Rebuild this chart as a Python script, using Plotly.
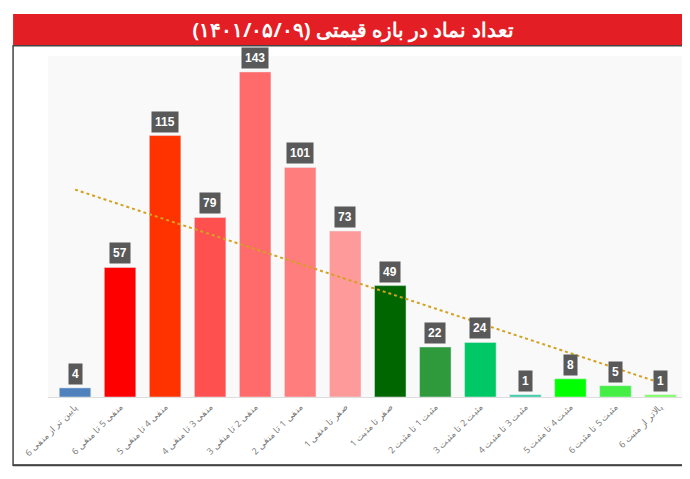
import numpy as np
import plotly.graph_objects as go

title = "تعداد نماد در بازه قیمتی (۱۴۰۱/۰۵/۰۹)"
categories = [
    "پایین تر از منفی 6",
    "منفی 5 تا منفی 6",
    "منفی 4 تا منفی 5",
    "منفی 3 تا منفی 4",
    "منفی 2 تا منفی 3",
    "منفی 1 تا منفی 2",
    "صفر تا منفی 1",
    "صفر تا مثبت 1",
    "مثبت 1 تا مثبت 2",
    "مثبت 2 تا مثبت 3",
    "مثبت 3 تا مثبت 4",
    "مثبت 4 تا مثبت 5",
    "مثبت 5 تا مثبت 6",
    "بالاتر از مثبت 6",
]
counts = [4, 57, 115, 79, 143, 101, 73, 49, 22, 24, 1, 8, 5, 1]
colors = ["#4f81bd", "#ff0000", "#ff3300", "#ff5050", "#ff6b6b", "#ff7d7d", "#ff9a9a",
          "#006600", "#2f9a3c", "#00c866", "#33c9a0", "#00ff00", "#44ee44", "#77ff55"]

idx = np.arange(len(counts))
slope, icpt = np.polyfit(idx, counts, 1)
trend = slope * idx + icpt

fig = go.Figure()
fig.add_trace(go.Bar(x=categories, y=counts, marker_color=colors, width=0.7,
                     showlegend=False, hoverinfo="x+y"))
fig.add_trace(go.Scatter(x=categories, y=trend, mode="lines", showlegend=False,
                         line=dict(color="#d4a020", width=2, dash="dot")))

for c, v in zip(categories, counts):
    fig.add_annotation(x=c, y=v, text=f"<b>{v}</b>", showarrow=False, yshift=14,
                       bgcolor="#595959", font=dict(color="white", size=12, family="Arial"),
                       borderpad=3)

# red title band and outer frame
fig.add_shape(type="rect", xref="paper", yref="paper", x0=-0.055, x1=1.016, y0=1.03, y1=1.123,
              fillcolor="#e31e24", line_width=0, layer="below")
fig.add_shape(type="rect", xref="paper", yref="paper", x0=-0.055, x1=1.016, y0=-0.2, y1=1.03,
              fillcolor="rgba(0,0,0,0)", line=dict(color="#444", width=1.5))
fig.add_shape(type="line", xref="paper", yref="paper", x0=-0.055, x1=1.016, y0=-0.2, y1=-0.2,
              line=dict(color="#444", width=2))

fig.update_layout(
    width=690, height=479,
    margin=dict(l=40, r=15, t=48, b=90, autoexpand=False),
    title=dict(text=f"<b>{title}</b>", x=0.5, y=0.955, xanchor="center", yanchor="middle",
               font=dict(color="white", size=20, family="Noto Sans")),
    paper_bgcolor="white",
    plot_bgcolor="#f9f9f9",
    xaxis=dict(tickangle=-45, tickfont=dict(size=9, color="#777"), showgrid=False,
               showline=True, linecolor="#ddd", automargin=False, range=[-0.6, 13.5]),
    yaxis=dict(visible=False, range=[0, 150]),
)
fig.write_html("out.html")
